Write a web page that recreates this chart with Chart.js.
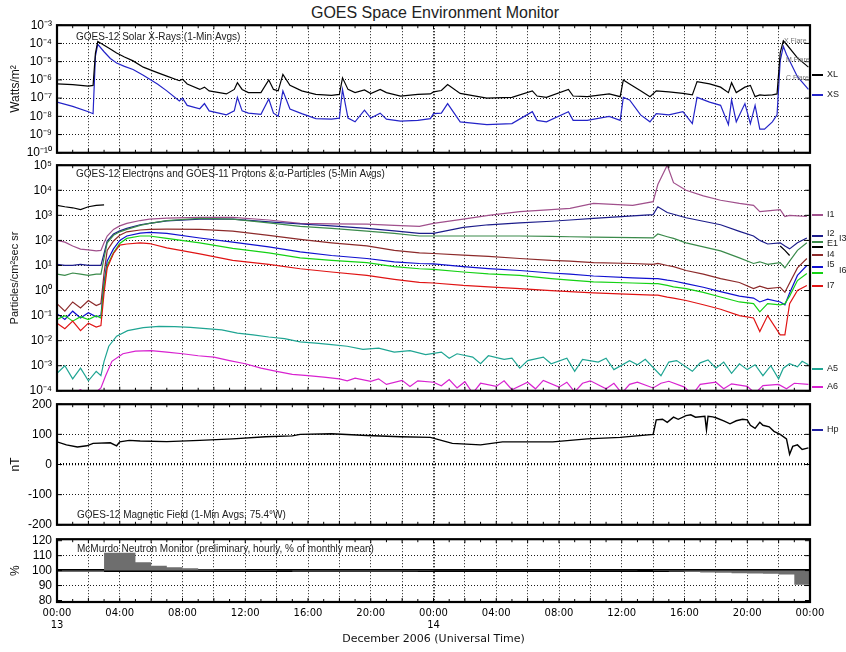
<!DOCTYPE html>
<html><head><meta charset="utf-8">
<script src="https://cdn.jsdelivr.net/npm/chart.js@4.4.1/dist/chart.umd.min.js"></script>
<style>
html,body{margin:0;padding:0;background:#fff;}
#wrap{position:relative;width:846px;height:652px;overflow:hidden;background:#fff;}
#wrap canvas{position:absolute;left:0;}
#title{position:absolute;left:0;width:870px;top:4px;text-align:center;font:16px "Liberation Sans",Arial,sans-serif;color:#222;line-height:18px;}
</style></head><body>
<div id="wrap">
<div id="title">GOES Space Environment Monitor</div>
<canvas id="c1" width="846" height="152" style="top:13px;width:846px;height:152px"></canvas>
<canvas id="c2" width="846" height="250" style="top:153px;width:846px;height:250px"></canvas>
<canvas id="c3" width="846" height="145" style="top:392px;width:846px;height:145px"></canvas>
<canvas id="c4" width="846" height="125" style="top:527px;width:846px;height:125px"></canvas>
</div>
<script>
// ---------------- DATA ----------------
// Panel 1: GOES-12 Solar X-Rays (W/m^2), time in hours from 13 Dec 00:00 UT
const xrayHours = [0,1,2,2.3,2.45,2.6,3.0,3.4,3.8,4.3,4.85,5.5,6.4,7.0,7.8,8.0,8.3,9.1,9.4,9.7,10.8,11.3,11.5,11.8,12.2,13.0,13.5,13.8,14.1,14.4,14.85,15.6,16.5,17.5,18.0,18.2,18.55,19.0,19.6,20.0,20.6,21.0,21.9,23.0,23.8,24.0,24.5,24.9,25.7,27.4,29.0,30.3,30.6,31.2,32.6,32.9,33.8,35.2,35.9,36.1,36.5,37.2,37.8,38.2,39.0,39.9,40.5,40.8,41.6,42.3,42.8,43.0,43.3,43.85,44.2,44.5,44.8,45.1,45.6,45.9,46.1,46.3,46.5,47.2,47.9];
const xlValues = [6e-7,5.5e-7,4.5e-7,5e-7,3e-5,1.3e-4,8e-5,5e-5,3e-5,1.8e-5,1.1e-5,5e-6,2.5e-6,1.6e-6,9e-7,1.1e-6,6e-7,3e-7,4e-7,2.5e-7,1.7e-7,3e-7,7e-7,3e-7,2e-7,2e-7,1e-6,3e-7,2.5e-7,2e-6,5e-7,2.5e-7,1.6e-7,1.4e-7,1.6e-7,1.3e-6,3e-7,2e-7,2.8e-7,1.8e-7,3e-7,2e-7,1.3e-7,1.6e-7,1.7e-7,2.2e-7,2.6e-7,5.5e-7,1.8e-7,1e-7,1.1e-7,2.5e-7,1.3e-7,1.1e-7,3e-7,1.3e-7,1.2e-7,1.7e-7,1.2e-7,1e-6,6e-7,2.5e-7,1.2e-7,2.5e-7,2.2e-7,1.8e-7,1.5e-7,8e-7,6e-7,4e-7,2e-7,7e-7,2e-7,4e-7,5e-7,1.2e-7,1.5e-7,1.4e-7,1.5e-7,1.7e-7,3e-5,1.4e-4,9e-5,1.6e-5,5e-6];
const xsValues = [6e-8,3.5e-8,1.8e-8,1.4e-8,2e-5,9e-5,3.5e-5,1.5e-5,8.5e-6,5.5e-6,3.7e-6,1.8e-6,6e-7,2.5e-7,7e-8,1e-7,4e-8,2.6e-8,5e-8,2e-8,1.2e-8,2e-8,1.1e-7,2e-8,1.5e-8,1.3e-8,9e-8,1.5e-8,1e-8,2.5e-7,2.5e-8,1.4e-8,7.5e-9,7e-9,8e-9,3e-7,8e-9,5e-9,2.2e-8,8e-9,1.5e-8,7e-9,5.5e-9,6e-9,7.5e-9,1.4e-8,1.5e-8,5e-8,5e-9,3.5e-9,4e-9,1.8e-8,6e-9,5e-9,1.8e-8,6e-9,6e-9,1e-8,6e-9,1.1e-7,8e-8,1.2e-8,5e-9,1.4e-8,1.2e-8,1.8e-8,4e-9,1.1e-7,6e-8,4e-8,3.5e-9,8e-8,5e-9,5e-8,4e-9,4e-8,2e-9,2e-9,5e-9,1.2e-8,1.1e-5,7e-5,2.5e-5,1.5e-6,3e-7];

// Panel 2: electrons, protons, alpha particles (particles / cm^2 s sr)
const partHours = [0,0.5,1,1.5,2,2.5,2.8,3.0,3.2,3.6,4.0,4.45,5.3,5.9,7.0,9.1,11.2,13.5,15.5,17.5,19.75,21.5,23.1,24.0,25.9,27.5,29.5,31.5,32.7,34.2,36.7,38.0,38.3,38.9,39.3,40.1,41.2,42.3,43.5,44.4,44.8,45.3,46.1,46.4,46.7,47.2,47.8];
const i1Values = [100,85,60,45,42,38,40,80,150,275,380,480,620,700,780,830,830,650,480,460,450,400,360,480,700,1000,1400,1700,1900,3000,2500,3500,17000,100000,20000,10000,6000,4000,3000,2500,1400,1500,1700,900,1000,950,900];
const i2Values = [11,10,10,11,10,10,10,30,95,180,240,300,420,480,600,700,700,550,450,380,300,240,190,190,330,420,500,580,650,750,950,1070,2200,1300,1100,800,580,420,230,150,100,72,80,60,46,80,125];
const i3Values = [4.5,4,5,4.5,4,4.5,4.5,20,80,160,220,275,400,480,620,760,700,500,360,300,235,190,150,150,150,150,150,145,140,135,130,125,180,140,120,80,55,38,20,12,14,11,13,8,15,40,80];
const i4Values = [0.3,0.15,0.35,0.2,0.4,0.25,0.3,5,40,95,160,220,260,275,280,275,235,160,110,80,60,40,32,30,26,23,19,16,15,13,12,11,12,10,9,6.3,4.5,3,2.1,1.2,1.5,1.2,1.35,0.85,2,8,19];
const i5Values = [0.12,0.07,0.15,0.08,0.13,0.09,0.1,2,15,46,100,150,195,210,190,125,85,55,35,25,19,14,12,11.5,9,7.5,6.3,5,4.5,3.8,3.2,3,3,2.6,2.4,1.9,1.35,0.9,0.6,0.5,0.35,0.45,0.35,0.27,0.8,4,10];
const i6Values = [0.07,0.1,0.06,0.09,0.07,0.1,0.08,1.5,10,32,75,120,150,150,120,80,48,32,20,16,13,9,7.4,7,5.5,4.6,4,3,2.6,2.2,2,1.9,1.9,1.6,1.4,1.2,0.85,0.55,0.35,0.3,0.14,0.3,0.27,0.3,0.6,2.5,4.8];
const i7Values = [0.05,0.03,0.06,0.025,0.05,0.035,0.04,0.8,8,30,65,72,80,75,50,29,16,11,7.4,5.5,4,2.8,2.1,2,1.6,1.4,1.2,1,0.9,0.8,0.7,0.65,0.65,0.55,0.5,0.4,0.27,0.18,0.1,0.08,0.023,0.1,0.017,0.017,0.3,1,1.6];
const e1Hours = [0,0.5,1,1.5,2,2.5,3.0,24,46.1,46.4,46.7];
const e1Values = [2500,2200,2000,1700,2200,2500,2600,null,60,40,25];
const a5Hours = [0,0.5,1,1.5,2,2.5,2.8,3.0,3.3,3.8,4.5,5.5,6.5,7.5,8.5,9.5,10.5,11.5,12.5,13.5,14.5,15.5,16.5,17.5,18.5,19.5,20.5,21.5,22.5,23.5,24.5,25,25.5,26.5,27,27.5,28.5,29,29.5,30,31,31.5,32.5,33,33.5,34.5,35,35.5,36.5,37,37.5,38.5,39,39.5,40.5,41,41.5,42,42.5,43,43.5,44,44.5,45,45.5,46,46.3,46.7,47.2,47.5,47.9];
const a5Values = [5e-4,1e-3,3e-4,8e-4,2.5e-4,6e-4,4e-4,1.5e-3,6e-3,0.015,0.025,0.033,0.037,0.036,0.034,0.03,0.027,0.02,0.017,0.014,0.012,0.009,0.008,0.007,0.006,0.0045,0.005,0.0035,0.004,0.0028,0.0035,0.002,0.003,0.0022,0.0012,0.0025,0.0018,0.002,0.0008,0.0016,0.0022,0.0012,0.002,0.0006,0.0018,0.0014,0.002,0.0007,0.0016,0.0011,0.0018,0.0004,0.0014,0.0016,0.0006,0.0013,0.0017,0.0008,0.0014,0.0005,0.0012,0.0007,0.0011,0.0004,0.001,0.0003,0.0008,0.0012,0.0009,0.0015,0.0011];
const a6Hours = [0,1,1.5,2,2.5,2.8,3.1,3.5,4.2,5,6,7,8,9,10,11,12,13,14,15,16,17,18,18.5,19,20,20.5,21,22,22.5,23,24,24.5,25,25.5,26,26.5,27,28,28.5,29,30,30.5,31,32,32.5,33,33.5,34,35,35.5,36,36.5,37,38,38.5,39,40,40.5,41,42,42.5,43,44,44.5,45,46,46.5,47,47.9];
const a6Values = [6e-5,8e-5,1.1e-4,7e-5,9e-5,1.3e-4,4e-4,1.5e-3,3e-3,3.8e-3,4e-3,3.5e-3,3e-3,2.5e-3,2.2e-3,1.6e-3,1.2e-3,8e-4,6e-4,4.5e-4,4e-4,3.5e-4,3e-4,2.5e-4,3.2e-4,2.4e-4,3e-4,1.8e-4,2.6e-4,1.5e-4,2.5e-4,2.2e-4,1.6e-4,2.8e-4,1.3e-4,2.3e-4,8e-5,2e-4,1.5e-4,2.5e-4,1.1e-4,2.2e-4,1.2e-4,2.6e-4,1.4e-4,2.2e-4,9e-5,2e-4,2.5e-4,1.2e-4,2e-4,8e-5,1.8e-4,2.2e-4,1.3e-4,2e-4,2.4e-4,1.4e-4,7e-5,1.8e-4,2.2e-4,1.2e-4,1.9e-4,1.5e-4,8e-5,1.6e-4,1.8e-4,1.2e-4,2e-4,1.8e-4];

// Panel 3: GOES-12 magnetic field Hp (nT)
const hpHours = [0,0.6,1.3,1.9,2.3,3.4,3.8,4.0,4.6,5.3,7.0,9.1,11.2,13.3,15.0,15.5,17.5,19.75,21.9,23.8,24.5,25.2,27.0,28.4,31.6,33.8,35.9,38.0,38.2,38.6,38.9,39.3,39.6,40.1,40.4,40.7,41.3,41.4,41.5,41.8,42.0,42.5,42.9,43.3,43.7,44.0,44.2,44.5,44.8,45.0,45.4,45.7,46.1,46.5,46.7,46.9,47.2,47.5,47.9];
const hpValues = [75,65,58,62,70,72,62,75,80,78,76,80,85,92,95,100,102,96,92,90,80,70,65,75,75,85,90,100,148,150,140,157,150,162,165,157,160,115,160,158,155,145,135,145,150,148,130,120,140,130,125,110,100,85,34,60,65,50,55];

// Panel 4: McMurdo neutron monitor, hourly % of monthly mean (hour h covers h..h+1)
const neutronHours = Array.from({length:48},(_,i)=>i);
const neutronPct = [99,99,99,112,112,105.6,103.2,102.2,101.6,100.8,100.6,100.5,100.4,100.4,100.3,99.4,99.4,99.4,99.4,99.4,99.4,99.4,99.6,99.8,100.2,100.2,100.2,100.2,100.2,100.2,100.2,100.2,100.2,100.2,100.2,100.2,100.2,100,99.8,99.4,99,98.8,98.6,98.3,98.1,97.9,97.4,90.5];
const neutronBase = 100;

// Axis tick labels
const dayLabels = {0:'13', 24:'14'};
const xrayDecades = [-10,-9,-8,-7,-6,-5,-4,-3];
const partDecades = [-4,-3,-2,-1,0,1,2,3,4,5];
const nmTicks = [80,90,100,110,120];

// ---------------- HELPERS ----------------
const SUP = {'-':'\u207B','0':'\u2070','1':'\u00B9','2':'\u00B2','3':'\u00B3','4':'\u2074','5':'\u2075','6':'\u2076','7':'\u2077','8':'\u2078','9':'\u2079'};
const sup = n => String(n).split('').map(c => SUP[c]).join('');
const pts = (xs, ys) => xs.map((x,i) => ({x, y: ys[i]}));
const FONT = '"Liberation Sans", Arial, sans-serif';
Chart.defaults.font.family = FONT;
Chart.defaults.color = '#000';
Chart.defaults.elements.point.radius = 0;
Chart.defaults.elements.line.borderWidth = 1.2;
Chart.defaults.elements.line.tension = 0;
Chart.defaults.animation = false;

const LEFT_W = 57, RIGHT_PAD = 36;

function xAxis(labels){
  const ax = {
    type:'linear', min:0, max:48,
    ticks:{stepSize:2, display:!!labels},
    grid:{color:'#000', lineWidth: c => (c.tick && c.tick.value === 24) ? 2 : 0.9, drawTicks:false},
    border:{display:false, dash:[1,2]}
  };
  if (!labels) { ax.afterFit = s => { s.height = 0; }; }
  return ax;
}
function yCommon(title, titleSize){
  return {
    afterFit: s => { s.width = LEFT_W; },
    title:{display:true, text:title, font:{size:titleSize, family:FONT}, color:'#111', padding:{top:8,bottom:0}},
    grid:{color:'#000', lineWidth:0.9, drawTicks:false},
    border:{display:false, dash:[1,2]}
  };
}
function logY(title, decades, titleSize){
  return Object.assign(yCommon(title, titleSize), {
    type:'logarithmic',
    min: Math.pow(10, decades[0]), max: Math.pow(10, decades[decades.length-1]),
    afterBuildTicks: s => { s.ticks = decades.map(e => ({value: Math.pow(10, e)})); },
    ticks:{padding:5, font:{size:12}, autoSkip:false, callback: v => '10' + sup(Math.round(Math.log10(v)))}
  });
}

function decor(o){
  return {
    id:'decor',
    afterDatasetsDraw(chart){
      const {ctx, chartArea:a, scales} = chart;
      const x = scales.x, y = scales.y;
      ctx.save();
      ctx.strokeStyle = '#000'; ctx.lineWidth = 1;
      ctx.beginPath();
      for (let h = 0; h <= 48; h++) {
        const px = x.getPixelForValue(h);
        const len = h % 2 === 0 ? 4 : 3;
        ctx.moveTo(px, a.top); ctx.lineTo(px, a.top + len);
        ctx.moveTo(px, a.bottom); ctx.lineTo(px, a.bottom - len);
      }
      y.ticks.forEach(t => {
        const py = y.getPixelForValue(t.value);
        ctx.moveTo(a.left, py); ctx.lineTo(a.left + 5, py);
        ctx.moveTo(a.right, py); ctx.lineTo(a.right - 5, py);
      });
      ctx.stroke();
      ctx.lineWidth = 2.2;
      ctx.strokeRect(a.left, a.top, a.right - a.left, a.bottom - a.top);
      ctx.textBaseline = 'middle'; ctx.textAlign = 'left';
      (o.texts || []).forEach(t => {
        ctx.font = t.font || ('10px ' + FONT);
        ctx.fillStyle = t.color || '#222';
        ctx.fillText(t.text, t.x, t.y - o.top);
      });
      (o.legend || []).forEach(l => {
        if (l.color) {
          ctx.strokeStyle = l.color; ctx.lineWidth = 2;
          ctx.beginPath(); ctx.moveTo(812, l.ly - o.top); ctx.lineTo(823, l.ly - o.top); ctx.stroke();
        }
        if (l.label) {
          ctx.font = '9px ' + FONT; ctx.fillStyle = '#222';
          ctx.fillText(l.label, l.tx || 827, (l.ty || l.ly) - o.top);
        }
      });
      ctx.restore();
    }
  };
}

function baseOpts(pad, scales){
  return {
    responsive:false, maintainAspectRatio:false, animation:false, devicePixelRatio:1, events:[],
    layout:{padding:{left:0, right:RIGHT_PAD, top:pad[0], bottom:pad[1]}},
    plugins:{legend:{display:false}, tooltip:{enabled:false}},
    scales
  };
}

const COL = {XL:'#000000', XS:'#2424c8', I1:'#a0508c', I2:'#1c1c8a', I3:'#3a8a4a', E1:'#000000',
  I4:'#8c2a2a', I5:'#1010d0', I6:'#14d214', I7:'#e01414', A5:'#1fa593', A6:'#d822d0', HP:'#000000', HPL:'#2020a0', NM:'#6e6e6e'};

// ---------------- PANEL 1 ----------------
new Chart(document.getElementById('c1'), {
  type:'line',
  data:{datasets:[
    {label:'XL', data:pts(xrayHours, xlValues), borderColor:COL.XL},
    {label:'XS', data:pts(xrayHours, xsValues), borderColor:COL.XS}
  ]},
  options: baseOpts([12,7], {x:xAxis(false), y:logY('Watts/m\u00B2', xrayDecades, 12)}),
  plugins:[decor({top:13,
    texts:[
      {text:'GOES-12 Solar X-Rays (1-Min Avgs)', x:76, y:37},
      {text:'X Flare', x:784, y:41, font:'7px '+FONT, color:'#777'},
      {text:'M Flare', x:786, y:60, font:'7px '+FONT, color:'#777'},
      {text:'C Flare', x:786, y:78, font:'7px '+FONT, color:'#777'}
    ],
    legend:[{label:'XL', color:COL.XL, ly:75}, {label:'XS', color:COL.XS, ly:95}]
  })]
});

// ---------------- PANEL 2 ----------------
new Chart(document.getElementById('c2'), {
  type:'line',
  data:{datasets:[
    {label:'A6', data:pts(a6Hours, a6Values), borderColor:COL.A6},
    {label:'A5', data:pts(a5Hours, a5Values), borderColor:COL.A5},
    {label:'I7', data:pts(partHours, i7Values), borderColor:COL.I7},
    {label:'I6', data:pts(partHours, i6Values), borderColor:COL.I6},
    {label:'I5', data:pts(partHours, i5Values), borderColor:COL.I5},
    {label:'I4', data:pts(partHours, i4Values), borderColor:COL.I4},
    {label:'I3', data:pts(partHours, i3Values), borderColor:COL.I3},
    {label:'I2', data:pts(partHours, i2Values), borderColor:COL.I2},
    {label:'I1', data:pts(partHours, i1Values), borderColor:COL.I1},
    {label:'E1', data:pts(e1Hours, e1Values), borderColor:COL.E1}
  ]},
  options: baseOpts([10,8], {x:xAxis(false), y:logY('Particles/cm\u00B2sec sr', partDecades, 11)}),
  plugins:[decor({top:153,
    texts:[{text:'GOES-12 Electrons and GOES-11 Protons & \u03B1-Particles (5-Min Avgs)', x:76, y:174}],
    legend:[
      {label:'I1', color:COL.I1, ly:215},
      {label:'I2', color:COL.I2, ly:236, ty:234},
      {label:'I3', color:COL.I3, ly:242, tx:839, ty:239},
      {label:'E1', color:COL.E1, ly:247, ty:244},
      {label:'I4', color:COL.I4, ly:255},
      {label:'I5', color:COL.I5, ly:267, ty:265},
      {label:'I6', color:COL.I6, ly:273, tx:839, ty:271},
      {label:'I7', color:COL.I7, ly:286},
      {label:'A5', color:COL.A5, ly:369},
      {label:'A6', color:COL.A6, ly:387}
    ]
  })]
});

// ---------------- PANEL 3 ----------------
const magY = Object.assign(yCommon('nT', 12), {
  min:-200, max:200,
  ticks:{stepSize:100, padding:5, font:{size:12}, autoSkip:false},
});
magY.grid = {color:'#000', lineWidth: c => (c.tick && c.tick.value === 0) ? 2.2 : 0.9, drawTicks:false};
new Chart(document.getElementById('c3'), {
  type:'line',
  data:{datasets:[{label:'Hp', data:pts(hpHours, hpValues), borderColor:COL.HP, borderWidth:1.4}]},
  options: baseOpts([8,8], {x:xAxis(false), y:magY}),
  plugins:[decor({top:392,
    texts:[{text:'GOES-12 Magnetic Field (1-Min Avgs, 75.4\u00B0W)', x:77, y:515}],
    legend:[{label:'Hp', color:COL.HPL, ly:430}]
  })]
});

// ---------------- PANEL 4 ----------------
const nmSteps = pts(neutronHours, neutronPct);
nmSteps.push({x: neutronHours[neutronHours.length-1] + 1, y: neutronPct[neutronPct.length-1]});
const nmX = xAxis(true);
nmX.ticks = {
  stepSize:2, padding:5, font:{size:10, family:'"DejaVu Sans", sans-serif'}, maxRotation:0, autoSkip:false,
  callback: v => {
    if (v % 4 !== 0) return '';
    const hh = String(v % 24).padStart(2,'0') + ':00';
    return dayLabels[v] ? [hh, dayLabels[v]] : hh;
  }
};
nmX.afterFit = s => { s.height = 50; };
nmX.title = {display:true, text:'December 2006 (Universal Time)', font:{size:11, family:'"DejaVu Sans", sans-serif'}, color:'#111', padding:{top:0,bottom:6}};
const nmY = Object.assign(yCommon('%', 12), {
  min:79, max:121,
  afterBuildTicks: s => { s.ticks = nmTicks.map(v => ({value:v})); },
  ticks:{padding:5, font:{size:12}, autoSkip:false}
});
nmY.grid = {color: c => (c.tick && (c.tick.value === 90 || c.tick.value === 110)) ? '#000' : 'rgba(0,0,0,0)', lineWidth:0.9, drawTicks:false};
new Chart(document.getElementById('c4'), {
  type:'line',
  data:{datasets:[
    {label:'Neutron', data:nmSteps, stepped:'before', borderWidth:0, borderColor:COL.NM, backgroundColor:COL.NM, fill:{value:neutronBase}},
    {label:'Base', data:[{x:0,y:neutronBase},{x:48,y:neutronBase}], borderColor:'#000', borderWidth:3}
  ]},
  options: baseOpts([8,0], {x:nmX, y:nmY}),
  plugins:[decor({top:527,
    texts:[{text:'McMurdo Neutron Monitor (preliminary, hourly, % of monthly mean)', x:77, y:549}]
  })]
});
</script>
</body></html>
